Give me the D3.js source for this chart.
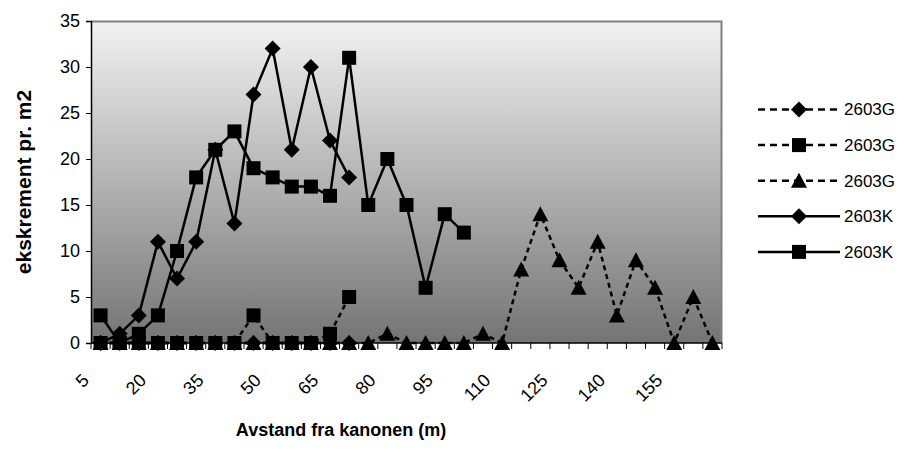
<!DOCTYPE html>
<html>
<head>
<meta charset="utf-8">
<script src="https://cdn.jsdelivr.net/npm/d3@7"></script>
<style>
  body { margin: 0; background: #fff; }
  text { font-family: Arial, "Liberation Sans", sans-serif; }
</style>
</head>
<body>
<div id="chart"></div>
<script>
var categories = [5, 10, 15, 20, 25, 30, 35, 40, 45, 50, 55, 60, 65, 70, 75, 80, 85,
                  90, 95, 100, 105, 110, 115, 120, 125, 130, 135, 140, 145, 150, 155, 160, 165];
var tickLabels = [5, 20, 35, 50, 65, 80, 95, 110, 125, 140, 155];
var yTicks = [0, 5, 10, 15, 20, 25, 30, 35];

// 2603G (dotted) and 2603K (solid)
var gDiamond = [0, 0, 0, 0, 0, 0, 0, 0, 0, 0, 0, 0, 0, 0];
var gSquare = [0, 0, 0, 0, 0, 0, 0, 0, 3, 0, 0, 0, 1, 5];
var gTriangle = [0, 0, 0, 0, 0, 0, 0, 0, 0, 0, 0, 0, 0, 0, 0, 1, 0, 0, 0, 0, 1, 0,
                 8, 14, 9, 6, 11, 3, 9, 6, 0, 5, 0];
var kDiamond = [0, 1, 3, 11, 7, 11, 21, 13, 27, 32, 21, 30, 22, 18];
var kSquare = [3, 0, 1, 3, 10, 18, 21, 23, 19, 18, 17, 17, 16, 31, 15, 20, 15, 6, 14, 12];

var seriesNames = ["2603G", "2603G", "2603G", "2603K", "2603K"];
var seriesValues = [gDiamond, gSquare, gTriangle, kDiamond, kSquare];
var seriesMarkers = ["diamond", "square", "triangle", "diamond", "square"];
var seriesDashed = [true, true, true, false, false];

(function() {
  var W = 918, H = 451;
  var margin = {top: 21, right: 196, bottom: 108, left: 91},
      width = W - margin.left - margin.right,
      height = H - margin.top - margin.bottom;

  var svg = d3.select("#chart")
    .append("svg")
    .attr("width", W)
    .attr("height", H);

  var defs = svg.append("defs");
  var grad = defs.append("linearGradient")
    .attr("id", "bg")
    .attr("x1", 0).attr("y1", 0).attr("x2", 0).attr("y2", 1);
  grad.append("stop").attr("offset", "0%").attr("stop-color", "#f2f2f2");
  grad.append("stop").attr("offset", "100%").attr("stop-color", "#747474");

  var g = svg.append("g")
    .attr("transform", "translate(" + margin.left + "," + margin.top + ")");

  var x = d3.scaleBand()
    .domain(categories)
    .range([0, width]);

  var y = d3.scaleLinear()
    .domain([0, 35])
    .range([height, 0]);

  // plot area
  g.append("rect")
    .attr("width", width)
    .attr("height", height)
    .attr("fill", "url(#bg)");
  g.append("path")
    .attr("d", "M0,0.5H" + (width - 0.5) + "V" + height)
    .attr("fill", "none")
    .attr("stroke", "#808080")
    .attr("stroke-width", 2);

  // y axis
  var yAxis = g.append("g")
    .call(d3.axisLeft(y).tickValues(yTicks).tickSize(5).tickPadding(6));
  yAxis.select(".domain").attr("stroke", "#000").attr("stroke-width", 1.5);
  yAxis.selectAll("text").attr("font-size", 18).attr("fill", "#000");

  // x axis: ticks at category boundaries
  var xAxis = g.append("g")
    .attr("transform", "translate(0," + height + ")");
  xAxis.append("line")
    .attr("x1", 0).attr("x2", width)
    .attr("stroke", "#000").attr("stroke-width", 1.5);
  xAxis.selectAll(".tk")
    .data(categories.concat(["end"]))
    .enter()
    .append("line")
    .attr("class", "tk")
    .attr("x1", function(d, i) { return i * x.bandwidth(); })
    .attr("x2", function(d, i) { return i * x.bandwidth(); })
    .attr("y1", 0).attr("y2", 6)
    .attr("stroke", "#000");
  xAxis.selectAll(".lbl")
    .data(tickLabels)
    .enter()
    .append("text")
    .attr("class", "lbl")
    .attr("transform", function(d) {
      return "translate(" + (x(d) + x.bandwidth() / 2 - 15) + ",34) rotate(-45)";
    })
    .attr("dy", "0.35em")
    .attr("text-anchor", "end")
    .attr("font-size", 18)
    .text(function(d) { return d; });

  // titles
  svg.append("text")
    .attr("transform", "translate(24," + (margin.top + height / 2) + ") rotate(-90)")
    .attr("text-anchor", "middle")
    .attr("dy", "0.35em")
    .attr("font-size", 21)
    .attr("font-weight", "bold")
    .text("ekskrement pr. m2");

  svg.append("text")
    .attr("x", 341)
    .attr("y", 436)
    .attr("text-anchor", "middle")
    .attr("font-size", 18)
    .attr("font-weight", "bold")
    .text("Avstand fra kanonen (m)");

  function markerPath(type) {
    if (type == "square") return "M-7,-7H7V7H-7Z";
    if (type == "diamond") return "M0,-8L8,0L0,8L-8,0Z";
    return "M0,-8L8,7L-8,7Z";
  }

  var line = d3.line()
    .x(function(d, i) { return x(categories[i]) + x.bandwidth() / 2; })
    .y(function(d) { return y(d); });

  seriesValues.forEach(function(vals, s) {
    var sg = g.append("g");
    sg.append("path")
      .datum(vals)
      .attr("d", line)
      .attr("fill", "none")
      .attr("stroke", "#000")
      .attr("stroke-width", 2.5)
      .attr("stroke-dasharray", seriesDashed[s] ? "5,4" : null);
    sg.selectAll(".pt")
      .data(vals)
      .enter()
      .append("path")
      .attr("class", "pt")
      .attr("d", markerPath(seriesMarkers[s]))
      .attr("transform", function(d, i) {
        return "translate(" + (x(categories[i]) + x.bandwidth() / 2) + "," + y(d) + ")";
      })
      .attr("fill", "#000");
  });

  // legend
  var legend = svg.append("g")
    .attr("transform", "translate(758,109.5)");
  seriesNames.forEach(function(name, s) {
    var row = legend.append("g")
      .attr("transform", "translate(0," + (s * 35.6) + ")");
    row.append("line")
      .attr("x1", 0).attr("x2", 82)
      .attr("stroke", "#000")
      .attr("stroke-width", 2.5)
      .attr("stroke-dasharray", seriesDashed[s] ? "7,5" : null);
    row.append("path")
      .attr("d", markerPath(seriesMarkers[s]))
      .attr("transform", "translate(41,0)");
    row.append("text")
      .attr("x", 86)
      .attr("dy", "0.35em")
      .attr("font-size", 17)
      .text(name);
  });
})();
</script>
</body>
</html>
